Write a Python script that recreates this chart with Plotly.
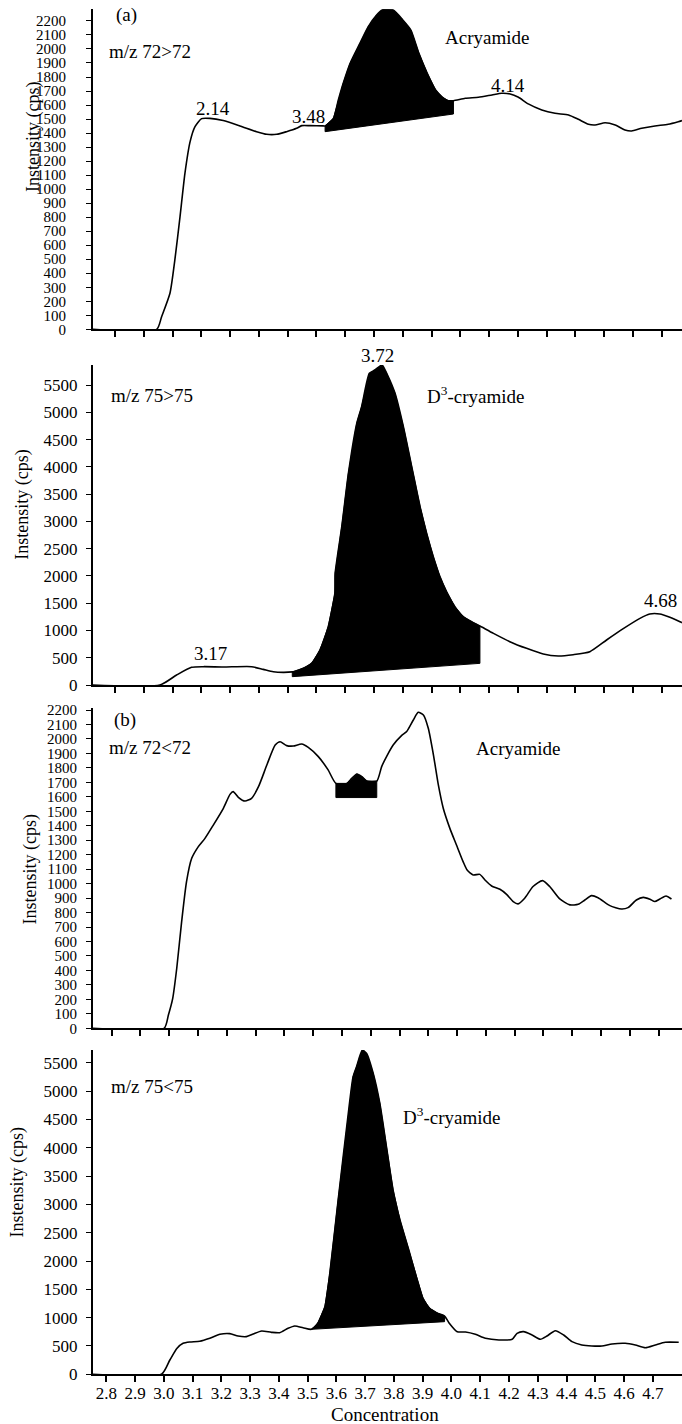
import plotly.graph_objects as go

W, H = 682, 1424
FONT = "Liberation Serif, Times New Roman, serif"

# ---------------- data ----------------
# Panel 1: (a) m/z 72>72
p1_x = [2.72, 2.945, 2.962, 2.991, 3.008, 3.026, 3.043, 3.061, 3.078, 3.101, 3.130, 3.176, 3.234, 3.292,
        3.327, 3.362, 3.396, 3.431, 3.449, 3.478, 3.524, 3.530, 3.559, 3.576, 3.593, 3.617, 3.651, 3.680,
        3.709, 3.732, 3.767, 3.800, 3.828, 3.856, 3.885, 3.914, 3.938, 3.958, 3.976, 4.017, 4.063, 4.110,
        4.144, 4.173, 4.202, 4.236, 4.283, 4.329, 4.376, 4.410, 4.445, 4.468, 4.503, 4.538, 4.572, 4.595,
        4.630, 4.676, 4.722, 4.757, 4.770]
p1_y = [0, 0, 90, 257, 495, 804, 1113, 1339, 1446, 1503, 1505, 1489, 1451, 1410,
        1391, 1391, 1410, 1434, 1453, 1453, 1451, 1451, 1505, 1636, 1755, 1898, 2040, 2159,
        2242, 2283, 2278, 2207, 2135, 1969, 1826, 1707, 1655, 1631, 1631, 1648, 1655, 1672,
        1684, 1679, 1655, 1608, 1565, 1541, 1529, 1498, 1463, 1458, 1474, 1458, 1422, 1415,
        1434, 1451, 1463, 1481, 1489]
p1_peak_x = [3.530, 3.976]
p1_base_y = [1410, 1536]

# Panel 2: m/z 75>75
p2_x = [2.72, 2.956, 3.014, 3.066, 3.107, 3.176, 3.275, 3.315, 3.350, 3.385, 3.416, 3.420, 3.454, 3.483,
        3.512, 3.541, 3.564, 3.565, 3.588, 3.611, 3.640, 3.657, 3.684, 3.703, 3.728, 3.744, 3.773, 3.802,
        3.831, 3.860, 3.883, 3.906, 3.929, 3.952, 3.981, 4.010, 4.039, 4.068, 4.115, 4.172, 4.230, 4.288,
        4.340, 4.392, 4.450, 4.508, 4.566, 4.624, 4.658, 4.693, 4.728, 4.763, 4.770]
p2_y = [0, 0, 183, 324, 336, 330, 336, 287, 244, 232, 240, 244, 306, 397,
        642, 1070, 1681, 2048, 2903, 3881, 4798, 5104, 5715, 5776, 5868, 5715, 5348, 4737,
        4003, 3270, 2781, 2353, 1987, 1711, 1436, 1253, 1161, 1082, 947, 795, 672, 568,
        532, 556, 611, 825, 1033, 1222, 1302, 1302, 1241, 1161, 1143]
p2_peak_x = [3.416, 4.068]
p2_base_y = [153, 397]

# Panel 3: (b) m/z 72<72
p3_x = [2.73, 2.982, 2.997, 3.012, 3.026, 3.043, 3.060, 3.078, 3.101, 3.124, 3.153, 3.188, 3.211, 3.222,
        3.240, 3.263, 3.286, 3.310, 3.339, 3.368, 3.385, 3.408, 3.431, 3.460, 3.483, 3.518, 3.552, 3.579,
        3.617, 3.634, 3.652, 3.669, 3.686, 3.721, 3.738, 3.755, 3.778, 3.807, 3.825, 3.848, 3.865, 3.883,
        3.900, 3.918, 3.935, 3.952, 3.975, 3.998, 4.021, 4.035, 4.056, 4.079, 4.097, 4.120, 4.149, 4.172,
        4.195, 4.212, 4.235, 4.264, 4.297, 4.322, 4.357, 4.392, 4.421, 4.444, 4.467, 4.490, 4.531, 4.571,
        4.594, 4.623, 4.647, 4.670, 4.687, 4.705, 4.726, 4.745]
p3_y = [0, 0, 92, 207, 415, 737, 1014, 1175, 1256, 1313, 1405, 1521, 1617, 1636,
        1597, 1571, 1590, 1670, 1820, 1958, 1981, 1954, 1951, 1965, 1942, 1878, 1786, 1693,
        1693, 1728, 1758, 1740, 1709, 1709, 1809, 1878, 1958, 2023, 2051, 2131, 2184, 2166,
        2074, 1889, 1682, 1521, 1382, 1267, 1152, 1094, 1060, 1064, 1025, 984, 961, 926,
        876, 860, 899, 980, 1021, 980, 894, 853, 857, 887, 917, 903, 848, 825,
        834, 887, 905, 892, 876, 894, 915, 894]
p3_peak_x = [3.579, 3.721]
p3_base_y = [1595, 1595]

# Panel 4: m/z 75<75
p4_x = [2.75, 2.992, 3.021, 3.046, 3.067, 3.090, 3.125, 3.160, 3.195, 3.229, 3.258, 3.287, 3.311, 3.340,
        3.374, 3.403, 3.432, 3.455, 3.484, 3.513, 3.535, 3.560, 3.577, 3.606, 3.644, 3.658, 3.670, 3.690,
        3.705, 3.728, 3.751, 3.774, 3.797, 3.821, 3.855, 3.884, 3.901, 3.924, 3.953, 3.976, 3.991, 4.020,
        4.049, 4.083, 4.118, 4.165, 4.211, 4.228, 4.251, 4.280, 4.309, 4.332, 4.361, 4.390, 4.419, 4.453,
        4.488, 4.523, 4.558, 4.604, 4.639, 4.674, 4.709, 4.743, 4.790]
p4_y = [0, 0, 253, 459, 547, 570, 582, 635, 706, 718, 676, 665, 712, 765,
        741, 735, 812, 853, 823, 794, 900, 1194, 1782, 3076, 4723, 5252, 5429, 5723,
        5664, 5311, 4782, 4017, 3253, 2723, 2135, 1606, 1341, 1165, 1076, 1029, 912, 753,
        747, 706, 635, 606, 618, 723, 753, 694, 618, 676, 770, 694, 576, 518,
        500, 500, 535, 547, 518, 470, 518, 565, 565]
p4_peak_x = [3.513, 3.976]
p4_base_y = [794, 929]

x_ticks = [2.8, 2.9, 3.0, 3.1, 3.2, 3.3, 3.4, 3.5, 3.6, 3.7, 3.8, 3.9, 4.0, 4.1, 4.2, 4.3, 4.4, 4.5, 4.6, 4.7]
x_tick_text = ["2.8", "2.9", "3.0", "3.1", "3.2", "3.3", "3.4", "3.5", "3.6", "3.7",
               "3.8", "3.9", "4.0", "4.1", "4.2", "4.3", "4.4", "4.5", "4.6", "4.7"]

y_title = "Instensity (cps)"
x_title = "Concentration"

# ---------------- layout geometry (pixels) ----------------
PLOT_LEFT = 93
panels = [
    # (xs, ys, peak_x, base_y, top_px, bottom_px, yrange_top, dtick, xrange, standoff)
    (p1_x, p1_y, p1_peak_x, p1_base_y, 9.3, 329.3, 2283, 100, [2.7236, 4.7701], 17),
    (p2_x, p2_y, p2_peak_x, p2_base_y, 365.0, 685.0, 5868, 500, [2.7236, 4.7701], 5),
    (p3_x, p3_y, p3_peak_x, p3_base_y, 708.3, 1028.3, 2212, 100, [2.7350, 4.7816], 6),
    (p4_x, p4_y, p4_peak_x, p4_base_y, 1050.0, 1374.3, 5725, 500, [2.7538, 4.8014], 5),
]

fig = go.Figure()
layout = dict(
    width=W, height=H, margin=dict(l=0, r=0, t=0, b=0),
    paper_bgcolor="white", plot_bgcolor="white", showlegend=False,
    font=dict(family=FONT, color="black", size=16),
)

for i, (xs, ys, pk, base, top, bot, ytop, dt, xr, so) in enumerate(panels):
    n = i + 1
    xa = "x" if n == 1 else f"x{n}"
    ya = "y" if n == 1 else f"y{n}"
    # filled peak area: curve between peak bounds, closed by the sloped baseline
    seg_x = [x for x in xs if pk[0] <= x <= pk[1]]
    seg_y = [y for x, y in zip(xs, ys) if pk[0] <= x <= pk[1]]
    poly_x = [pk[0]] + seg_x + [pk[1], pk[0]]
    poly_y = [base[0]] + seg_y + [base[1], base[0]]
    fig.add_trace(go.Scatter(x=poly_x, y=poly_y, mode="lines", fill="toself",
                             fillcolor="black", line=dict(color="black", width=1),
                             xaxis=xa, yaxis=ya, hoverinfo="skip"))
    fig.add_trace(go.Scatter(x=xs, y=ys, mode="lines",
                             line=dict(color="black", width=1.6, shape="spline", smoothing=0.6),
                             xaxis=xa, yaxis=ya))
    ydom = [1 - bot / H, 1 - top / H]
    xkey = "xaxis" if n == 1 else f"xaxis{n}"
    ykey = "yaxis" if n == 1 else f"yaxis{n}"
    layout[xkey] = dict(
        domain=[PLOT_LEFT / W, 1], range=xr, anchor=ya,
        showline=True, linecolor="black", linewidth=2,
        ticks="outside", ticklen=6, tickwidth=1.6, tickcolor="black",
        tickvals=x_ticks, ticktext=x_tick_text, ticklabelstandoff=-4,
        showticklabels=(n == 4), tickfont=dict(family=FONT, size=17),
        showgrid=False, zeroline=False, automargin=False, fixedrange=True,
    )
    layout[ykey] = dict(
        domain=ydom, range=[0, ytop], anchor=xa,
        showline=True, linecolor="black", linewidth=2,
        ticks="outside", ticklen=5, tickwidth=1.4, tickcolor="black",
        tick0=0, dtick=dt, ticklabelstandoff=so,
        tickfont=dict(family=FONT, size=15 if dt == 100 else 17),
        showgrid=False, zeroline=False, automargin=False, fixedrange=True,
    )

fig.update_layout(**layout)


def ann(px, py, text, size=19, angle=0):
    fig.add_annotation(x=px / W, y=1 - py / H, xref="paper", yref="paper",
                       text=text, showarrow=False, textangle=angle,
                       xanchor="center", yanchor="middle",
                       font=dict(family=FONT, size=size, color="black"))


# panel 1
ann(126.7, 15, "(a)")
ann(150, 51.7, "m/z 72&gt;72")
ann(213.3, 108.3, "2.14")
ann(308.3, 116.7, "3.48")
ann(486.7, 37.3, "Acryamide")
ann(507.7, 85, "4.14")
# panel 2
ann(378, 355, "3.72")
ann(152.3, 395, "m/z 75&gt;75")
ann(475, 395, "D<sup>3</sup>-cryamide")
ann(210, 653.3, "3.17")
ann(660, 600, "4.68")
# panel 3
ann(125, 720, "(b)")
ann(150, 747.7, "m/z 72&lt;72")
ann(518.3, 748.3, "Acryamide")
# panel 4
ann(151.7, 1086.7, "m/z 75&lt;75")
ann(451.3, 1116, "D<sup>3</sup>-cryamide")
# axis titles
ann(34, 137, y_title, size=18, angle=-90)
ann(21.7, 505, y_title, size=18, angle=-90)
ann(29.6, 870, y_title, size=18, angle=-90)
ann(17.4, 1182, y_title, size=18, angle=-90)
ann(385, 1414, x_title, size=19)

fig.write_html("out.html", config={"displayModeBar": False},
               post_script="document.body.style.margin='0';document.body.style.padding='0';")
